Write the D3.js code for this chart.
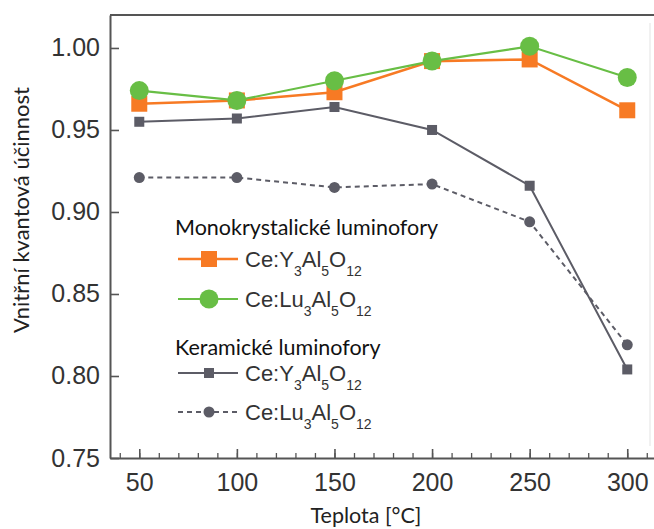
<!DOCTYPE html>
<html>
<head>
<meta charset="utf-8">
<script src="https://cdn.jsdelivr.net/npm/d3@7/dist/d3.min.js"></script>
<style>
  html, body { margin: 0; padding: 0; background: #fff; }
  svg { display: block; }
</style>
</head>
<body>
<svg id="chart" width="654" height="529"></svg>
<script>
// Temperatures (°C)
const temps = [50, 100, 150, 200, 250, 300];

// Internal quantum efficiency
const monoYAG  = [0.966, 0.968, 0.973, 0.992, 0.993, 0.962];
const monoLuAG = [0.974, 0.968, 0.980, 0.992, 1.001, 0.982];
const ceramYAG  = [0.955, 0.957, 0.964, 0.950, 0.916, 0.804];
const ceramLuAG = [0.921, 0.921, 0.915, 0.917, 0.894, 0.819];

const xMajorTicks = [50, 100, 150, 200, 250, 300];
const xMinorTicks = d3.range(40, 311, 10);
const yTicks = [0.75, 0.80, 0.85, 0.90, 0.95, 1.00];

const colors = { orange: "#F77A24", green: "#68BE45", gray: "#5C5C66", axis: "#555" };

const series = [
  { values: monoYAG,  color: colors.orange, width: 2.6, marker: "square", size: 16, dash: null },
  { values: monoLuAG, color: colors.green,  width: 2.2, marker: "circle", size: 19, dash: null },
  { values: ceramYAG, color: colors.gray,   width: 2.0, marker: "square", size: 10, dash: null },
  { values: ceramLuAG,color: colors.gray,   width: 2.0, marker: "circle", size: 11, dash: "5,4" }
];

const svg = d3.select("#chart");
const plotL = 110, plotR = 654, plotT = 15, plotB = 458;

const x = d3.scaleLinear().domain([35, 313.7]).range([plotL, plotR]);
const y = d3.scaleLinear().domain([0.75, 1.0201]).range([plotB, plotT]);

// frame: top border and a faint right edge
svg.append("line")
  .attr("x1", plotL).attr("x2", plotR).attr("y1", plotT).attr("y2", plotT)
  .attr("stroke", colors.axis).attr("stroke-width", 2);
svg.append("line")
  .attr("x1", 650).attr("x2", 650).attr("y1", plotT + 8).attr("y2", plotB - 12)
  .attr("stroke", "#ececec").attr("stroke-width", 1.5);

// x axis minor ticks
const xMinor = svg.append("g").attr("transform", `translate(0,${plotB})`)
  .call(d3.axisBottom(x).tickValues(xMinorTicks).tickSize(-5).tickFormat(""));
xMinor.select(".domain").remove();
xMinor.selectAll(".tick line").attr("stroke", colors.axis).attr("stroke-width", 1.3);

// x axis major ticks + labels
const xAxis = svg.append("g").attr("transform", `translate(0,${plotB})`)
  .call(d3.axisBottom(x).tickValues(xMajorTicks).tickSize(-9).tickPadding(15).tickSizeOuter(0).tickFormat(d3.format("d")));
xAxis.select(".domain").attr("stroke", colors.axis).attr("stroke-width", 2);
xAxis.selectAll(".tick line").attr("stroke", colors.axis).attr("stroke-width", 1.6);
xAxis.selectAll(".tick text")
  .attr("fill", "#333").attr("font-family", "Liberation Sans, Arial, sans-serif").attr("font-size", 25);

// y axis
const yAxis = svg.append("g").attr("transform", `translate(${plotL},0)`)
  .call(d3.axisLeft(y).tickValues(yTicks).tickSize(-9).tickPadding(10).tickSizeOuter(0).tickFormat(d3.format(".2f")));
yAxis.select(".domain").attr("stroke", colors.axis).attr("stroke-width", 2);
yAxis.selectAll(".tick line").attr("stroke", colors.axis).attr("stroke-width", 1.6);
yAxis.selectAll(".tick text")
  .attr("fill", "#333").attr("font-family", "Liberation Sans, Arial, sans-serif").attr("font-size", 25);

// axis titles
svg.append("text")
  .attr("x", 366).attr("y", 523).attr("text-anchor", "middle")
  .attr("font-family", "Lato, 'Open Sans', sans-serif").attr("font-size", 21.5).attr("fill", "#222")
  .text("Teplota [°C]");
svg.append("text")
  .attr("transform", "translate(29,210) rotate(-90)").attr("text-anchor", "middle")
  .attr("font-family", "Lato, 'Open Sans', sans-serif").attr("font-size", 22).attr("fill", "#222")
  .text("Vnitřní kvantová účinnost");

function drawMarker(g, s, cx, cy) {
  const sz = s.size;
  if (s.marker === "square") {
    g.append("rect").attr("x", cx - sz / 2).attr("y", cy - sz / 2)
      .attr("width", sz).attr("height", sz).attr("fill", s.color);
  } else {
    g.append("circle").attr("cx", cx).attr("cy", cy).attr("r", sz / 2).attr("fill", s.color);
  }
}

// series lines and markers (ceramic first, monocrystal on top)
const line = d3.line().x((d, i) => x(temps[i])).y(d => y(d));
[2, 3, 0, 1].forEach(k => {
  const s = series[k];
  const g = svg.append("g");
  g.append("path").datum(s.values).attr("d", line)
    .attr("fill", "none").attr("stroke", s.color).attr("stroke-width", s.width)
    .attr("stroke-dasharray", s.dash);
  s.values.forEach((v, i) => drawMarker(g, s, x(temps[i]), y(v)));
});

// legend
const legend = svg.append("g");
const headFont = "Lato, 'Open Sans', sans-serif";
function header(text, yy) {
  legend.append("text").attr("x", 175).attr("y", yy).attr("font-family", headFont)
    .attr("font-size", 21.5).attr("fill", "#111").text(text);
}
function entry(s, base, yy) {
  legend.append("line").attr("x1", 178).attr("x2", 238).attr("y1", yy).attr("y2", yy)
    .attr("stroke", s.color).attr("stroke-width", s.width).attr("stroke-dasharray", s.dash);
  drawMarker(legend, s, 209, yy);
  const t = legend.append("text").attr("x", 245).attr("y", yy + 8)
    .attr("font-family", "Liberation Sans, Arial, sans-serif").attr("font-size", 22).attr("fill", "#333");
  const parts = [["Ce:" + base, false], ["3", true], ["Al", false], ["5", true], ["O", false], ["12", true]];
  parts.forEach(([p, sub]) => {
    const ts = t.append("tspan").text(p);
    if (sub) ts.attr("font-size", 14).attr("dy", 9);
    else ts.attr("dy", p.startsWith("Ce") ? 0 : -9);
  });
}
header("Monokrystalické luminofory", 235);
entry(series[0], "Y", 259);
entry(series[1], "Lu", 299);
header("Keramické luminofory", 355);
entry(series[2], "Y", 373);
entry(series[3], "Lu", 412);
</script>
</body>
</html>
